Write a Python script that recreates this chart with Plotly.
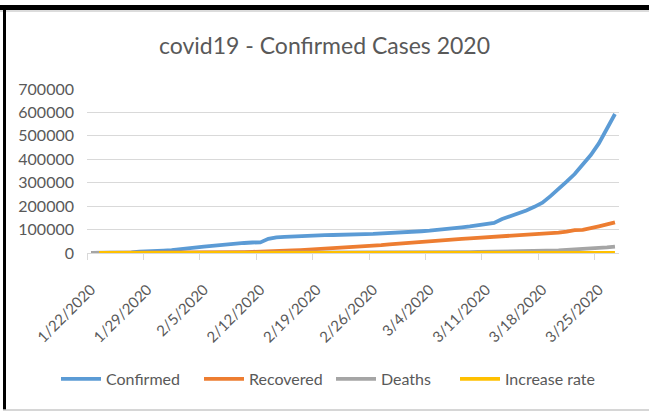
import plotly.graph_objects as go

dates = ["1/22/2020","1/23/2020","1/24/2020","1/25/2020","1/26/2020","1/27/2020","1/28/2020","1/29/2020","1/30/2020","1/31/2020",
         "2/1/2020","2/2/2020","2/3/2020","2/4/2020","2/5/2020","2/6/2020","2/7/2020","2/8/2020","2/9/2020","2/10/2020",
         "2/11/2020","2/12/2020","2/13/2020","2/14/2020","2/15/2020","2/16/2020","2/17/2020","2/18/2020","2/19/2020","2/20/2020",
         "2/21/2020","2/22/2020","2/23/2020","2/24/2020","2/25/2020","2/26/2020","2/27/2020","2/28/2020","2/29/2020","3/1/2020",
         "3/2/2020","3/3/2020","3/4/2020","3/5/2020","3/6/2020","3/7/2020","3/8/2020","3/9/2020","3/10/2020","3/11/2020",
         "3/12/2020","3/13/2020","3/14/2020","3/15/2020","3/16/2020","3/17/2020","3/18/2020","3/19/2020","3/20/2020","3/21/2020",
         "3/22/2020","3/23/2020","3/24/2020","3/25/2020","3/26/2020","3/27/2020"]

confirmed = [555, 654, 941, 1434, 2118, 2927, 5578, 6166, 8234, 9927,
             12038, 16787, 19881, 23892, 27635, 30794, 34391, 37120, 40150, 42762,
             44802, 45221, 60368, 66885, 69030, 71224, 73258, 75136, 75639, 76197,
             76819, 78572, 78958, 79561, 80406, 81388, 82746, 84112, 86011, 88369,
             90306, 92840, 95120, 97886, 101801, 105847, 109821, 113590, 118620, 125875,
             128352, 145205, 156101, 167454, 181574, 197102, 214821, 242570, 272208, 304507,
             337020, 378287, 418041, 467653, 529591, 593291]

recovered = [28, 30, 36, 39, 52, 61, 107, 126, 143, 222,
             284, 472, 623, 852, 1124, 1487, 2011, 2616, 3244, 3946,
             4683, 5150, 6295, 8058, 9395, 10865, 12583, 14352, 16121, 18177,
             18890, 22886, 23394, 25227, 27905, 30384, 33277, 36711, 39782, 42716,
             45602, 48228, 51170, 53796, 55865, 58358, 60694, 62494, 64404, 67003,
             68324, 70251, 72624, 76034, 78088, 80840, 83207, 84854, 87256, 91499,
             97704, 98342, 107890, 113604, 121966, 130915]

deaths = [17, 18, 26, 42, 56, 82, 131, 133, 171, 213,
          259, 362, 426, 492, 564, 634, 719, 806, 906, 1013,
          1113, 1118, 1371, 1523, 1666, 1770, 1868, 2007, 2122, 2247,
          2251, 2458, 2469, 2629, 2708, 2770, 2814, 2872, 2941, 2996,
          3085, 3160, 3254, 3348, 3460, 3558, 3802, 3988, 4262, 4615,
          4720, 5404, 5819, 6440, 7126, 7905, 8733, 9867, 11299, 12973,
          14651, 16505, 18625, 21181, 23970, 27198]

increase_rate = [None, 1.18, 1.44, 1.52, 1.48, 1.38, 1.91, 1.11, 1.34, 1.21,
                 1.21, 1.39, 1.18, 1.20, 1.16, 1.11, 1.12, 1.08, 1.08, 1.07,
                 1.05, 1.01, 1.33, 1.11, 1.03, 1.03, 1.03, 1.03, 1.01, 1.01,
                 1.01, 1.02, 1.00, 1.01, 1.01, 1.01, 1.02, 1.02, 1.02, 1.03,
                 1.02, 1.03, 1.02, 1.03, 1.04, 1.04, 1.04, 1.03, 1.04, 1.06,
                 1.02, 1.13, 1.08, 1.07, 1.08, 1.09, 1.09, 1.13, 1.12, 1.12,
                 1.11, 1.12, 1.11, 1.12, 1.13, 1.12]

series_names = ["Confirmed", "Recovered", "Deaths", "Increase rate"]
series_values = [confirmed, recovered, deaths, increase_rate]
colors = ["#5B9BD5", "#ED7D31", "#A5A5A5", "#FFC000"]

y_ticks = [0, 100000, 200000, 300000, 400000, 500000, 600000, 700000]

FONT = "Lato"
TXT = "#595959"

W, H = 649, 412
L, R, T, B = 87, 30, 89, 159
pw, ph = W - L - R, H - T - B

# legend text start positions (px) as in the reference's legend row
legend_text_x = [106, 249, 381, 505]
legend_ids = ["legend", "legend2", "legend3", "legend4"]

idx = list(range(len(dates)))
tick_idx = idx[::7]
tick_lab = [dates[i] for i in tick_idx]

fig = go.Figure()
for name, vals, c, lg in zip(series_names, series_values, colors, legend_ids):
    fig.add_trace(go.Scatter(x=idx, y=vals, name=name, mode="lines", legend=lg,
                             line=dict(color=c, width=3.8), connectgaps=False))

# invisible trace to activate the tick-mark axis
fig.add_trace(go.Scatter(x=[idx[0], idx[-1]], y=[0, 0], xaxis="x2", mode="lines",
                         line=dict(width=0), showlegend=False, hoverinfo="skip"))

legend_common = dict(orientation="h", xref="container", yref="container",
                     xanchor="left", y=1 - 379 / H, yanchor="middle",
                     font=dict(size=16, color=TXT, family=FONT), itemwidth=40,
                     bgcolor="rgba(0,0,0,0)", borderwidth=0)

legends = {}
for lg, tx in zip(legend_ids, legend_text_x):
    legends[lg] = dict(legend_common, x=(tx - 50) / W)

fig.update_layout(
    width=W, height=H,
    margin=dict(l=L, r=R, t=T, b=B, autoexpand=False),
    paper_bgcolor="white", plot_bgcolor="white",
    font=dict(family=FONT, color=TXT),
    title=dict(text="covid19 - Confirmed Cases 2020", x=0.5, xref="container",
               y=1 - 46 / H, yref="container", yanchor="middle", xanchor="center",
               font=dict(size=23, color=TXT, family=FONT)),
    xaxis=dict(range=[-0.5, len(dates) - 0.5], tickmode="array", tickvals=tick_idx,
               ticktext=tick_lab, tickangle=-45, showgrid=False, zeroline=False,
               showline=True, linecolor="#D9D9D9", linewidth=1, ticks="",
               ticklabelstandoff=21,
               tickfont=dict(size=15, color=TXT, family=FONT)),
    xaxis2=dict(range=[-0.5, len(dates) - 0.5], overlaying="x", tickmode="array",
                tickvals=[i - 0.5 for i in tick_idx], ticktext=["" for _ in tick_idx],
                ticks="outside", ticklen=6, tickcolor="#D9D9D9", showgrid=False,
                zeroline=False, showline=False, side="bottom", anchor="y"),
    yaxis=dict(range=[0, 700000], tickmode="array", tickvals=y_ticks,
               ticktext=[str(v) for v in y_ticks], showgrid=True, gridcolor="#D9D9D9",
               gridwidth=1, zeroline=False, showline=False, ticks="",
               ticklabelstandoff=12, tickfont=dict(size=16, color=TXT, family=FONT)),
    showlegend=True,
    **legends,
)

def px_x(p):
    return (p - L) / pw

def px_y(p):
    return (H - B - p) / ph

# outer frame pieces (black top bar, black left edge, gray bottom line)
fig.add_shape(type="rect", xref="paper", yref="paper", x0=px_x(0), x1=px_x(W),
              y0=px_y(10), y1=px_y(5), fillcolor="black", line_width=0, layer="above")
fig.add_shape(type="line", xref="paper", yref="paper", x0=px_x(0), x1=px_x(W),
              y0=px_y(11), y1=px_y(11), line=dict(color="#D0D0D0", width=1.5))
fig.add_shape(type="rect", xref="paper", yref="paper", x0=px_x(3), x1=px_x(6),
              y0=px_y(410), y1=px_y(5), fillcolor="black", line_width=0)
fig.add_shape(type="line", xref="paper", yref="paper", x0=px_x(3), x1=px_x(W),
              y0=px_y(410), y1=px_y(410), line=dict(color="#C8C8C8", width=1.5))

fig.write_html("out.html", config={"displayModeBar": False},
               post_script="document.body.style.margin='0';document.body.style.padding='0';document.body.style.overflow='hidden';")
